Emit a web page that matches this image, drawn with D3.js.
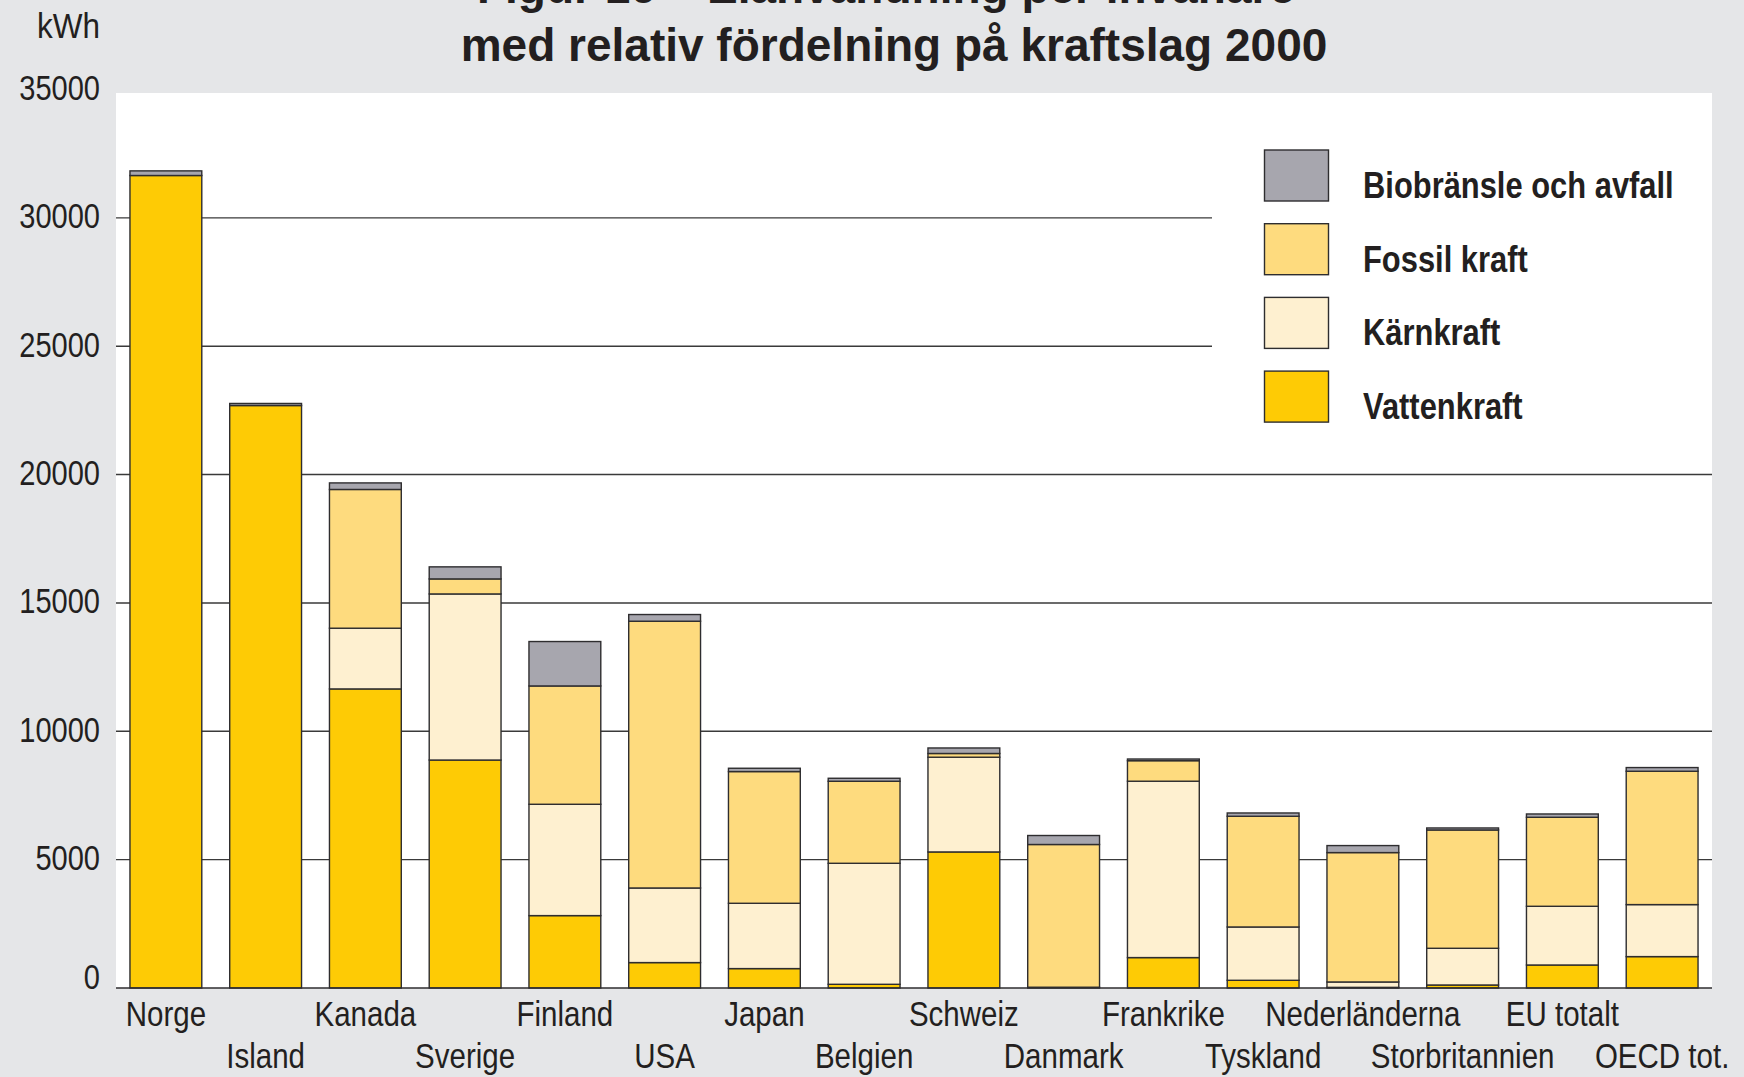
<!DOCTYPE html>
<html>
<head>
<meta charset="utf-8">
<script src="https://cdn.jsdelivr.net/npm/d3@7"></script>
<style>
  html, body { margin: 0; padding: 0; background: #e5e6e8; }
  svg { display: block; }
</style>
</head>
<body>
<div id="chart"></div>
<script>
// --- data (kWh per invånare, 2000) ---
const countries = ["Norge", "Island", "Kanada", "Sverige", "Finland", "USA", "Japan", "Belgien",
    "Schweiz", "Danmark", "Frankrike", "Tyskland", "Nederländerna", "Storbritannien", "EU totalt", "OECD tot."];
const vattenkraft = [31650, 22690, 11650, 8880, 2820, 990, 756, 144, 5300, 30, 1185, 300, 25, 117, 896, 1223];
const karnkraft   = [0, 0, 2365, 6470, 4337, 2906, 2544, 4714, 3690, 0, 6870, 2077, 210, 1430, 2287, 2026];
const fossilkraft = [0, 0, 5405, 585, 4609, 10391, 5131, 3195, 145, 5560, 800, 4313, 5040, 4609, 3467, 5194];
const biobransle  = [180, 80, 255, 470, 1730, 261, 129, 117, 215, 350, 65, 128, 273, 78, 129, 144];

const seriesKeys   = ["Vattenkraft", "Kärnkraft", "Fossil kraft", "Biobränsle och avfall"];
const seriesColors = ["#fecb05", "#fef0d0", "#fedb7e", "#a7a6ae"];
const yTicks = [0, 5000, 10000, 15000, 20000, 25000, 30000, 35000];

const titleLines = ["Figur 16 – Elanvändning per invånare", "med relativ fördelning på kraftslag 2000"];
const unitLabel = "kWh";

// --- layout ---
const W = 1744, H = 1077;
const plot = { left: 116, right: 1712, top: 93, bottom: 988 };
const gridStopX = 1212;      // short gridlines behind legend
const legendBottom = 430;
const font = "'Liberation Sans', Arial, Helvetica, sans-serif";
const ink = "#231f20";

// no condensed face installed, so squeeze the regular one horizontally
function placeText(sel, fx, fy, sx) {
    sel.attr("transform", (d, i) => `translate(${fx(d, i)},${fy(d, i)}) scale(${sx},1)`);
}

const rows = countries.map((c, i) => ({
    country: c,
    "Vattenkraft": vattenkraft[i],
    "Kärnkraft": karnkraft[i],
    "Fossil kraft": fossilkraft[i],
    "Biobränsle och avfall": biobransle[i]
}));

const svg = d3.select("#chart").append("svg")
    .attr("width", W)
    .attr("height", H);

svg.append("rect").attr("width", W).attr("height", H).attr("fill", "#e5e6e8");
svg.append("rect")
    .attr("x", plot.left).attr("y", plot.top)
    .attr("width", plot.right - plot.left).attr("height", plot.bottom - plot.top)
    .attr("fill", "#ffffff");

const x = d3.scaleBand()
    .domain(countries)
    .range([plot.left, plot.right])
    .paddingInner(0.28)
    .paddingOuter(0.14);

const y = d3.scaleLinear()
    .domain([0, 35000])
    .range([plot.bottom, 89.5]);

const color = d3.scaleOrdinal().domain(seriesKeys).range(seriesColors);

// gridlines
svg.append("g").selectAll("line")
    .data(yTicks.filter(t => t > 0 && t < 35000))
    .enter().append("line")
    .attr("x1", plot.left)
    .attr("x2", d => y(d) < legendBottom ? gridStopX : plot.right)
    .attr("y1", d => y(d)).attr("y2", d => y(d))
    .attr("stroke", "#3a3a3a")
    .attr("stroke-width", 1.4);

// stacked bars
const stacked = d3.stack().keys(seriesKeys)(rows);

svg.append("g").selectAll("g")
    .data(stacked)
    .enter().append("g")
    .attr("fill", d => color(d.key))
    .selectAll("rect")
    .data(d => d.filter(s => s[1] - s[0] > 0))
    .enter().append("rect")
    .attr("x", d => x(d.data.country))
    .attr("width", x.bandwidth())
    .attr("y", d => y(d[1]))
    .attr("height", d => y(d[0]) - y(d[1]))
    .attr("stroke", "#2e2d2f")
    .attr("stroke-width", 1.4);

// baseline
svg.append("line")
    .attr("x1", plot.left).attr("x2", plot.right)
    .attr("y1", y(0)).attr("y2", y(0))
    .attr("stroke", "#2e2d2f")
    .attr("stroke-width", 1.6);

// y tick labels
svg.append("g").selectAll("text")
    .data(yTicks)
    .enter().append("text")
    .attr("text-anchor", "end")
    .attr("font-family", font)
    .attr("font-size", 35)
    .attr("fill", ink)
    .text(d => d)
    .call(placeText, () => 100, d => y(d) + (d === 0 ? 1 : 10.5), 0.83);

svg.append("text")
    .attr("text-anchor", "end")
    .attr("font-family", font)
    .attr("font-size", 35)
    .attr("fill", ink)
    .text(unitLabel)
    .call(placeText, () => 100, () => 38, 0.9);

// category labels, staggered on two rows
svg.append("g").selectAll("text")
    .data(countries)
    .enter().append("text")
    .attr("text-anchor", "middle")
    .attr("font-family", font)
    .attr("font-size", 36)
    .attr("fill", ink)
    .text(d => d)
    .call(placeText, d => x(d) + x.bandwidth() / 2, (d, i) => i % 2 === 0 ? 1026 : 1068, 0.82);

// title (first line is cut at the top edge, as in the printed figure)
svg.append("g").selectAll("text")
    .data(titleLines)
    .enter().append("text")
    .attr("x", (d, i) => i === 0 ? 886 : 894)
    .attr("y", (d, i) => 3 + i * 58)
    .attr("text-anchor", "middle")
    .attr("font-family", font)
    .attr("font-weight", "bold")
    .attr("font-size", 46)
    .attr("fill", ink)
    .text(d => d);

// legend, top to bottom: Bio, Fossil, Kärn, Vatten
const legendKeys = seriesKeys.slice().reverse();
const legend = svg.append("g").selectAll("g")
    .data(legendKeys)
    .enter().append("g")
    .attr("transform", (d, i) => `translate(1264.5,${150 + i * 73.7})`);

legend.append("rect")
    .attr("width", 64).attr("height", 51)
    .attr("fill", d => color(d))
    .attr("stroke", "#2e2d2f")
    .attr("stroke-width", 1.4);

legend.append("text")
    .attr("font-family", font)
    .attr("font-weight", "bold")
    .attr("font-size", 37)
    .attr("fill", ink)
    .text(d => d)
    .call(placeText, () => 98.5, () => 48, 0.835);
</script>
</body>
</html>
